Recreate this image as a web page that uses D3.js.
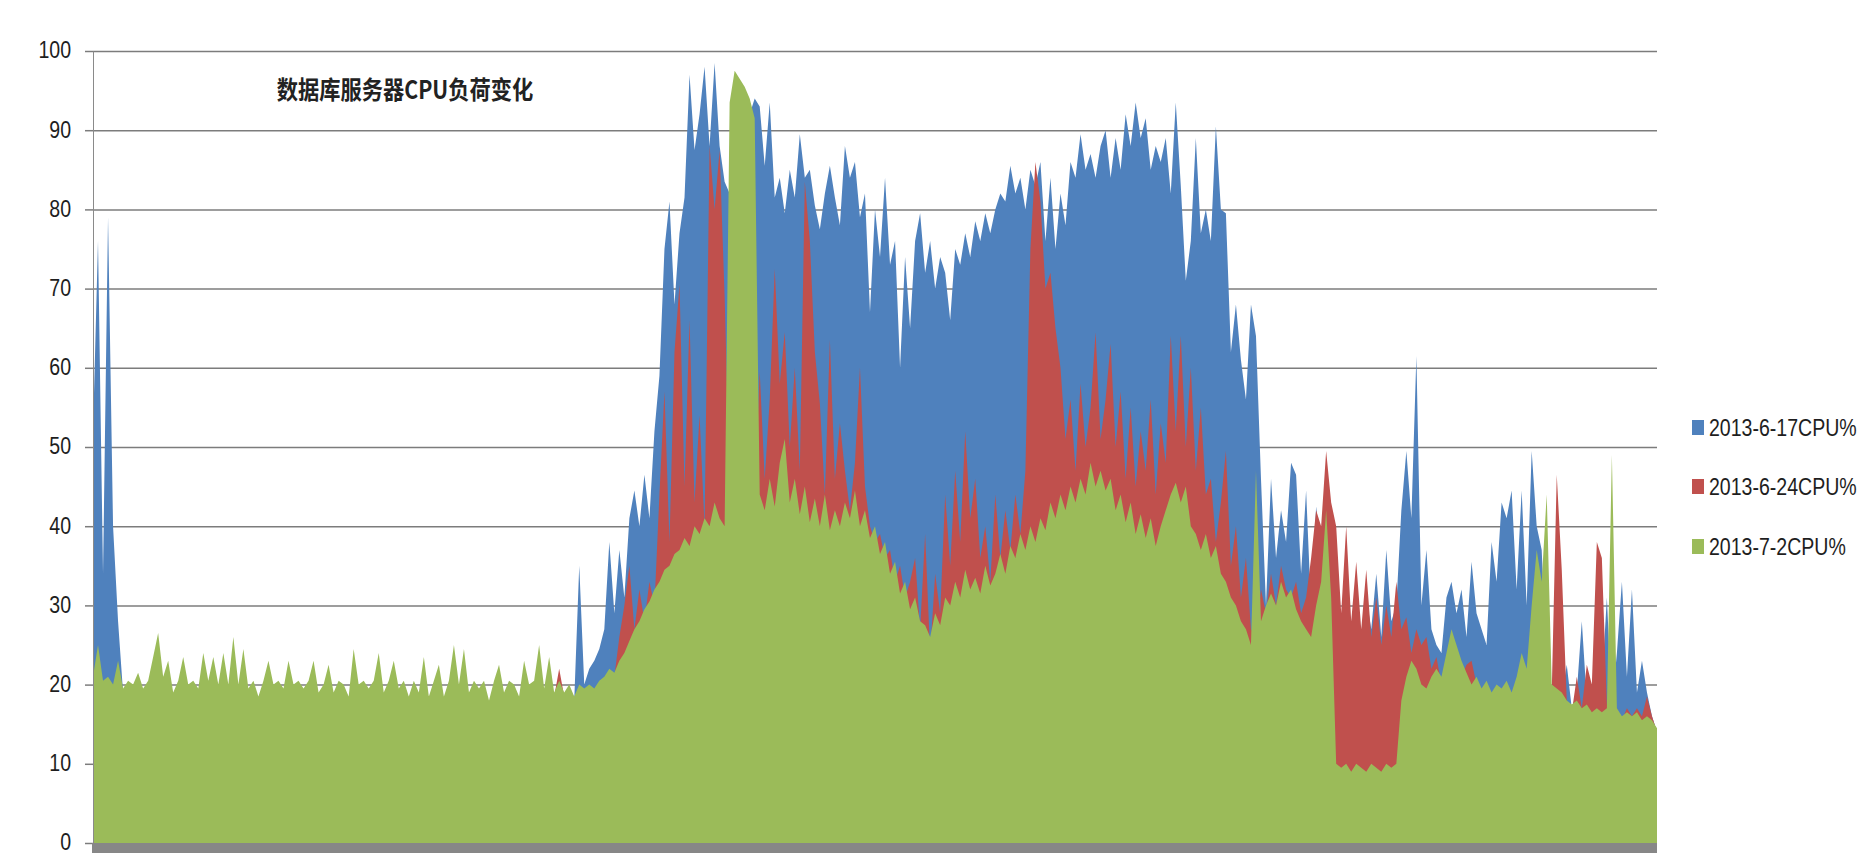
<!DOCTYPE html>
<html>
<head>
<meta charset="utf-8">
<script src="https://cdn.jsdelivr.net/npm/d3@7"></script>
<style>
  body { margin: 0; background: #fff; }
  svg { display: block; }
</style>
</head>
<body>
<div id="chart"></div>
<script>
// 数据：每 5 像素左右读一个点
const title = "数据库服务器CPU负荷变化";
const seriesNames = ["2013-6-17CPU%", "2013-6-24CPU%", "2013-7-2CPU%"];
const seriesColors = ["#4F81BD", "#C0504D", "#9BBB59"];
const yTicks = [0, 10, 20, 30, 40, 50, 60, 70, 80, 90, 100];

const cpu0617 = [
  52,76,34,79,40,28,19,19,19,19.5,
  19,19,19,19.5,19,19,18.5,19,19,19,
  19,18.5,19,18.5,19,19,18.5,19,19,19,
  18.5,18.5,19,18,19,18.5,19,18.5,19,18.5,
  19,18.5,19,18.5,18.5,18.5,19,18.5,18.5,18.5,
  19,18,18.5,19,18.5,19,18.5,18.5,18.5,19,
  18.5,19,18.5,18,19,18.5,18.5,18,18.5,18.5,
  18,19,18.5,19,18.5,18.5,18.5,19,18.5,17.5,
  19,18.5,18.5,18.5,19,18,18.5,19,18.5,18.5,
  19,18.5,18.5,19,18.5,18.5,18,35,20,22,
  23,24.5,27,38,29,37,31,41,44.5,40,
  46.5,41,52,59,75,81,68,77,81.5,97,
  87.5,92,98,88,98.5,88,83.5,82,86,88,
  90,92,94,93,85.5,93.5,81.5,84,79.5,85,
  81.5,89.5,84,85,80.5,77.5,82,85.5,81.5,78,
  88,84,86,79,82,67,80,74,84,73,
  76,60,74,65,76,79.5,72,76,70,74,
  72,66,75,73,77,74,78.5,76,79.5,77,
  80,82,81,85.5,82,84,80,85,83,86,
  76,84,75,82,78,86,84,89.5,85,87,
  84,88,90,84,89,85,92,88,93.5,89,
  91.5,85,88,86,89,82,93.5,83,71,76,
  89,77,80,76,90.5,80,79.5,62,68,61,
  56,68,64,46,30,46,36,42,38,48,
  46.5,34,44.5,29.5,42.5,36,30,30,28,25,
  27,24,26,25,31,27,34,26,37,28,
  30,42,49.5,41,61.5,30,37,27,25,24,
  31,33,29,32,26,35.5,29,27,25,38,
  33,43,41,44.5,32,44.5,30,49.5,40,37,
  22,19.5,19,18.5,22.5,17,19,28,18,17.5,
  18,20,31,17,24,33,21,32,19,23,
  19,16,14
];

const cpu0624 = [
  19,19.5,19,19,18.5,19,18.5,19,18.5,19,
  18.5,19,19,19.5,19,19,18.5,19,19,18.5,
  19,18.5,19,19,19,18.5,19,18.5,19,18.5,
  19,18.5,18.5,18,18.5,19,18.5,19,18.5,19,
  18.5,19,18.5,18.5,19,18.5,18.5,19,18.5,19,
  18.5,18,19,18.5,19,18.5,18.5,19,18.5,18.5,
  19,18.5,18.5,18,18.5,18.5,19,18.5,18.5,19,
  18,18.5,19,18.5,19,18.5,19,18.5,18.5,17.5,
  18.5,19,18.5,19,18.5,18,19,18.5,18.5,19,
  18.5,19,18.5,22,18.5,18.5,18,18.5,18.5,19,
  19.5,20,20.5,21.5,21,26,30,35,27,32,
  28,33,30,44,57,38,62,70.5,45,66,
  43,54,40,88,80,87.5,69,45,40,42,
  38,41,44,59.5,46,56,72.5,58,64.5,50,
  60,47,83.5,76,62,55.5,44,63.5,46,53,
  47,42,48,60,45,40,38,39,36,37,
  33,35,31,33,36,27,39,24,34,29,
  44,35,47,38,52,41,46,36,40,33,
  44,36,42,37,44,39,47,75,86,81,
  70,72,65,60,51,56,47,58,50,55,
  64.5,51,56,63,50,57,46,55,45,52,
  47,56,44,53,48,64,52,64,50,60,
  47,55,44,46,38,43,49.5,35,40,31,
  36,27,26,32,29,34,30,35,32,31,
  33,29,31,36,42,40,49.5,43,40,29,
  40,28,35.5,27,34.5,26,31,25,30,26,
  33,27,28.5,24,27,25,26,22,23.5,20,
  23,24,22,21,22.5,23,20,19,20,18.5,
  19,19,20,18.5,20,22,21,28,33,30,
  22,19,46.5,34.5,18,16.5,21,17,22.5,20,
  38,36,17.5,16,17,15.5,17,16,17,16,
  18.5,16,14
];

const cpu0702 = [
  21,25,20.5,21,20,23,19.5,20.5,20,21.5,
  19.5,20.5,23.5,26.5,21,23,19,20.5,23.5,20,
  20.5,19.5,24,20.5,23.5,20,24,20,26,20,
  24.5,19.5,20.5,18.5,20.5,23,20,20.5,19.5,23,
  20,20.5,19.5,20.5,23,19,20,22.5,19,20.5,
  20,18.5,24.5,20,20.5,19.5,20.5,24,19,20.5,
  23,19.5,20.5,18.5,20.5,19,23.5,18.5,20.5,22.5,
  18.5,20.5,25,20,24.5,19,20.5,19.5,20.5,18,
  20.5,22.5,19,20.5,20,18.5,23,20,20.5,25,
  19.5,23.5,19,20.5,19,20,18.5,20,19.5,20,
  19.5,20.5,21,22,21.5,23,24,25.5,27,28,
  29.5,30.5,32,33,34.5,35,36.5,37,38.5,37.5,
  40,39,41,40,43,41,40,93.5,97.5,96.5,
  95.5,94,91.5,44,42,46,42.5,48,51,43,
  46,41.5,45,40.5,43.5,40,44,39.5,42,40,
  43,41,44.5,40,42,38.5,40,36.5,38,34,
  35.5,31.5,33,29.5,31,28,27.5,26,29,27.5,
  31,30,33,31,34.5,32,33.5,31.5,35,32.5,
  34,36.5,34,37.5,36,39,37,40,38,41,
  39.5,43,41,44,42,45,43,46,44,48,
  45,47,44.5,46,42,44,40.5,43,39,41.5,
  38.5,41,37.5,40,42,44,45.5,43,45,40,
  39,37,39,36,37.5,34,33,31,30,28,
  27,25,47,28,30,31.5,30,33,31,32,
  29.5,28,27,26,30,33,42,31,10,9.5,
  10,9,10,9.5,9,10,9.5,9,10,9.5,
  10,18,21,23,22,20,19.5,21,22,21,
  24,27,25,23,21.5,20,21,19.5,20.5,19,
  20,19.5,20.5,19,21,24,22,30,37,33,
  44,20,19.5,19,18,17.5,18,17,17.5,16.5,
  17,16.5,17,49,17,16,16.5,16,16.5,15.5,
  16,15.5,14.5
];

const series = [cpu0617, cpu0624, cpu0702];

// 画布
const width = 1863, height = 853;
const margin = { top: 51, right: 206, bottom: 10, left: 93 };
const plotW = width - margin.left - margin.right;
const plotBottom = height - margin.bottom;
const squeeze = 0.85; // 原图文字偏窄

const svg = d3.select("#chart").append("svg")
  .attr("width", width)
  .attr("height", height);

const x = d3.scaleLinear()
  .domain([0, cpu0617.length - 1])
  .range([margin.left, margin.left + plotW]);

const y = d3.scaleLinear()
  .domain([0, 100])
  .range([plotBottom, margin.top]);

// 网格线
const grid = svg.append("g")
  .attr("transform", `translate(${margin.left},0)`)
  .call(d3.axisLeft(y).tickValues(yTicks).tickSize(-plotW).tickFormat(""));
grid.select(".domain").remove();
grid.selectAll("line").attr("stroke", "#7c7c7c").attr("stroke-width", 1.5);

// 面积（蓝在最下，绿在最上）
const area = d3.area()
  .x((d, i) => x(i))
  .y0(y(0))
  .y1(d => y(d));

series.forEach((data, k) => {
  svg.append("path")
    .datum(data)
    .attr("fill", seriesColors[k])
    .attr("d", area);
});

// Y 轴
const yAxis = svg.append("g")
  .attr("transform", `translate(${margin.left},0)`)
  .call(d3.axisLeft(y).tickValues(yTicks).tickSize(8).tickSizeOuter(0));
yAxis.select(".domain").attr("stroke", "#8a8a8a").attr("stroke-width", 1);
yAxis.selectAll(".tick line").attr("stroke", "#7c7c7c").attr("stroke-width", 1.5);
yAxis.selectAll(".tick text")
  .attr("x", -22 / squeeze)
  .attr("dy", "0.3em")
  .attr("transform", `scale(${squeeze},1)`)
  .style("font-family", "'Liberation Sans', Arial, sans-serif")
  .style("font-size", "23px")
  .attr("fill", "#1e1e1e");

// 底部灰色横轴
svg.append("rect")
  .attr("x", margin.left - 1)
  .attr("y", plotBottom)
  .attr("width", plotW + 1)
  .attr("height", margin.bottom)
  .attr("fill", "#878787");

// 标题
svg.append("text")
  .attr("x", 405 / squeeze)
  .attr("y", 90)
  .attr("dy", "0.35em")
  .attr("transform", `scale(${squeeze},1)`)
  .attr("text-anchor", "middle")
  .style("font-family", "'Noto Sans CJK SC', sans-serif")
  .style("font-weight", "bold")
  .style("font-size", "25px")
  .attr("fill", "#222")
  .text(title);

// 图例
const legendY = [428, 487, 547];
const legend = svg.append("g");
seriesNames.forEach((name, k) => {
  legend.append("rect")
    .attr("x", 1692)
    .attr("y", legendY[k] - 8)
    .attr("width", 12)
    .attr("height", 15)
    .attr("fill", seriesColors[k]);
  legend.append("text")
    .attr("x", 1709 / squeeze)
    .attr("y", legendY[k])
    .attr("dy", "0.35em")
    .attr("transform", `scale(${squeeze},1)`)
    .style("font-family", "'Liberation Sans', Arial, sans-serif")
    .style("font-size", "23px")
    .attr("fill", "#1e1e1e")
    .text(name);
});
</script>
</body>
</html>
